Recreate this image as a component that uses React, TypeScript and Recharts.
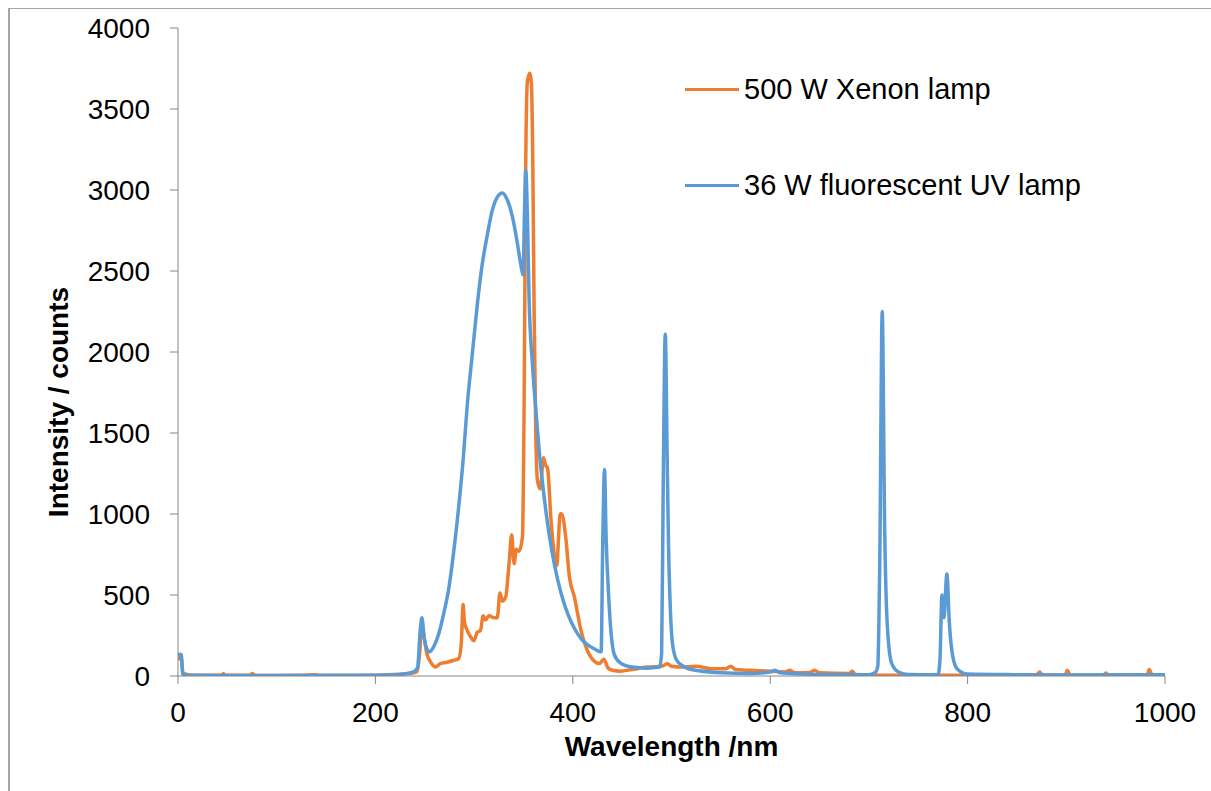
import { LineChart, Line, XAxis, YAxis, Legend, Label } from 'recharts'

// ─── Data ────────────────────────────────────────────────────────────────────

// 500 W Xenon lamp
const xenonWavelength = [
  0, 2, 3.5, 5, 8, 15, 30, 44, 46, 48, 73, 75, 78, 100, 125, 140, 143, 170, 200, 220,
  235, 242, 245, 247, 249, 252, 255.6, 260.7, 265.8, 272.6, 279.4, 284.5, 287, 288.9, 290.2, 293,
  296.3, 299.7, 303.1, 306.5, 309.2, 311.6, 315, 320, 323.5, 326.2, 328.6, 332, 335.4, 338.1,
  340.5, 342.8, 345.5, 349, 350.6, 352.3, 354, 356.4, 358.1, 359.5, 360.8, 362.5, 364.2, 367,
  370.3, 372.5, 374.4, 377.8, 379.5, 382.9, 383.9, 385.5, 387.3, 388.7, 393, 396.5, 401.6, 408.3,
  415, 422, 427, 431.4, 435.5, 440, 448, 460, 475, 490, 496, 500, 510, 525, 540, 555, 560, 565,
  580, 600, 615, 620, 625, 640, 645, 650, 680, 683, 686, 700, 750, 800, 850, 870, 873, 876, 899,
  901, 904, 938, 940, 943, 982, 984, 987, 1000,
]
const xenonIntensity = [
  100, 110, 105, 20, 12, 5, 4, 6, 14, 4, 5, 16, 4, 3, 4, 8, 3, 3, 5, 10,
  15, 26, 150, 340, 256, 141, 90, 56, 77, 85, 97, 108, 200, 441, 334, 282,
  244, 218, 269, 282, 372, 346, 372, 359, 359, 513, 462, 488, 693, 872,
  693, 783, 770, 860, 1617, 3156, 3669, 3720, 3650, 3156, 2258, 1488, 1206, 1155,
  1347, 1300, 1283, 975, 847, 693, 680, 850, 1001, 1000, 847, 616, 488, 282,
  154, 90, 77, 103, 51, 35, 30, 40, 55, 60, 75, 60, 55, 60, 45, 45, 60, 40,
  35, 30, 25, 35, 20, 22, 35, 20, 15, 30, 10, 5, 5, 5, 8, 8, 25, 5, 8,
  35, 5, 6, 18, 5, 8, 40, 5, 5,
]

// 36 W fluorescent UV lamp
const uvWavelength = [
  0, 1.5, 3.5, 4.5, 10, 50, 100, 150, 200, 225, 238.6, 242.7, 245.4, 247.1, 249.5, 252.2,
  254.9, 259, 264, 269.2, 274.3, 279.4, 284.5, 288.9, 293, 298, 303.1, 308.2, 313.3, 318.4,
  323.5, 328.6, 333.7, 338.8, 343.9, 347.3, 349.6, 351, 352.3, 354, 355.7, 359.1, 362.5, 366,
  371, 376.1, 381.2, 388, 394.8, 401.6, 408.3, 415.1, 422, 428.7, 430.4, 432.1, 433.8, 436.5,
  438.9, 442.3, 449, 460, 475, 488, 490, 491.5, 493.7, 495.5, 497, 498.5, 501, 505, 512, 520,
  550, 580, 600, 605, 610, 650, 700, 706, 709, 711, 713.5, 716, 718.5, 723, 730, 740, 770,
  772, 774, 776, 779, 781.5, 785, 790, 800, 850, 900, 1000,
]
const uvIntensity = [
  120, 135, 130, 10, 5, 3, 3, 4, 5, 10, 26, 51, 282, 359, 231, 167,
  149, 180, 257, 385, 539, 770, 1052, 1334, 1668, 1976, 2284, 2540, 2720, 2874,
  2956, 2982, 2938, 2835, 2669, 2540, 2476, 2848, 3120, 2848, 2335, 1925, 1650, 1386,
  1103, 872, 693, 513, 385, 295, 231, 192, 167, 149, 847, 1275, 847, 475,
  257, 128, 77, 55, 48, 55, 140, 1100, 2110, 1400, 800, 470, 200, 100, 60, 40,
  20, 15, 25, 35, 20, 10, 8, 20, 60, 700, 2250, 900, 330, 80, 25, 10, 8,
  100, 500, 360, 630, 330, 120, 40, 12, 8, 6, 8,
]

const xTicks = [0, 200, 400, 600, 800, 1000]
const yTicks = [0, 500, 1000, 1500, 2000, 2500, 3000, 3500, 4000]

// ─── Styling ─────────────────────────────────────────────────────────────────

const FONT = '"Liberation Sans", Arial, sans-serif'
const XENON_COLOR = '#ED7D31'
const UV_COLOR = '#5B9BD5'
const AXIS_COLOR = '#868686'

const legendItems = [
  { name: '500 W Xenon lamp', color: XENON_COLOR },
  { name: '36 W fluorescent UV lamp', color: UV_COLOR },
]

// merge both spectra on one numeric wavelength axis
type Row = { wl: number; xenon?: number; uv?: number }
function buildRows(): Row[] {
  const map = new Map<number, Row>()
  xenonWavelength.forEach((wl, i) => {
    const row = map.get(wl) ?? { wl }
    row.xenon = xenonIntensity[i]
    map.set(wl, row)
  })
  uvWavelength.forEach((wl, i) => {
    const row = map.get(wl) ?? { wl }
    row.uv = uvIntensity[i]
    map.set(wl, row)
  })
  return [...map.values()].sort((a, b) => a.wl - b.wl)
}
const rows = buildRows()

// ─── Pieces ──────────────────────────────────────────────────────────────────

function LegendBox() {
  return (
    <div style={{ fontFamily: FONT, fontSize: 29, color: '#000' }}>
      {legendItems.map((it, i) => (
        <div
          key={it.name}
          style={{ display: 'flex', alignItems: 'center', height: 40, marginBottom: i === 0 ? 56 : 0, whiteSpace: 'nowrap' }}
        >
          <span style={{ display: 'inline-block', width: 54, height: 3, background: it.color, marginRight: 5 }} />
          <span>{it.name}</span>
        </div>
      ))}
    </div>
  )
}

function XTitle(props: any) {
  const vb = props.viewBox ?? { x: 0, y: 0, width: 0, height: 0 }
  return (
    <text
      x={vb.x + vb.width / 2}
      y={vb.y + 70}
      textAnchor="middle"
      dominantBaseline="central"
      fontFamily={FONT}
      fontSize={28}
      fontWeight="bold"
      fill="#000"
    >
      Wavelength /nm
    </text>
  )
}

function YTitle(props: any) {
  const vb = props.viewBox ?? { x: 0, y: 0, width: 0, height: 0 }
  const cx = vb.x - 60
  const cy = vb.y + vb.height / 2 + 50
  return (
    <text
      x={cx}
      y={cy}
      transform={`rotate(-90 ${cx} ${cy})`}
      textAnchor="middle"
      dominantBaseline="central"
      fontFamily={FONT}
      fontSize={28}
      fontWeight="bold"
      fill="#000"
    >
      Intensity / counts
    </text>
  )
}

// ─── Chart ───────────────────────────────────────────────────────────────────

export default function App() {
  const tick = { fill: '#000', fontSize: 28, fontFamily: FONT }
  return (
    <div style={{ position: 'fixed', left: 0, top: 0, width: 1211, height: 791, overflow: 'hidden', background: '#fff' }}>
      {/* outer chart frame, only its top and left edges fall inside the picture */}
      <div
        style={{
          position: 'absolute',
          left: 8,
          top: 8,
          width: 1300,
          height: 900,
          borderLeft: '2px solid #A6A6A6',
          borderTop: '1px solid #A6A6A6',
        }}
      />
      <LineChart
        width={1211}
        height={791}
        data={rows}
        margin={{ top: 28, right: 46, bottom: 75, left: 118 }}
        style={{ position: 'absolute', left: 0, top: 0 }}
      >
        <XAxis
          dataKey="wl"
          type="number"
          domain={[0, 1000]}
          ticks={xTicks}
          height={40}
          tick={tick}
          tickSize={8}
          tickMargin={18}
          stroke={AXIS_COLOR}
          axisLine={{ stroke: AXIS_COLOR }}
          tickLine={{ stroke: AXIS_COLOR }}
          allowDataOverflow
        >
          <Label content={<XTitle />} />
        </XAxis>
        <YAxis
          type="number"
          domain={[0, 4000]}
          ticks={yTicks}
          width={60}
          tick={tick}
          tickSize={8}
          tickMargin={20}
          stroke={AXIS_COLOR}
          axisLine={{ stroke: AXIS_COLOR }}
          tickLine={{ stroke: AXIS_COLOR }}
          allowDataOverflow
        >
          <Label content={<YTitle />} />
        </YAxis>
        <Legend
          layout="vertical"
          align="center"
          verticalAlign="middle"
          content={<LegendBox />}
          wrapperStyle={{ left: 685, top: 69, width: 500, height: 140 }}
        />
        <Line
          type="monotone"
          dataKey="xenon"
          name="500 W Xenon lamp"
          stroke={XENON_COLOR}
          strokeWidth={3.5}
          dot={false}
          connectNulls
          isAnimationActive={false}
        />
        <Line
          type="monotone"
          dataKey="uv"
          name="36 W fluorescent UV lamp"
          stroke={UV_COLOR}
          strokeWidth={3.5}
          dot={false}
          connectNulls
          isAnimationActive={false}
        />
      </LineChart>
    </div>
  )
}
